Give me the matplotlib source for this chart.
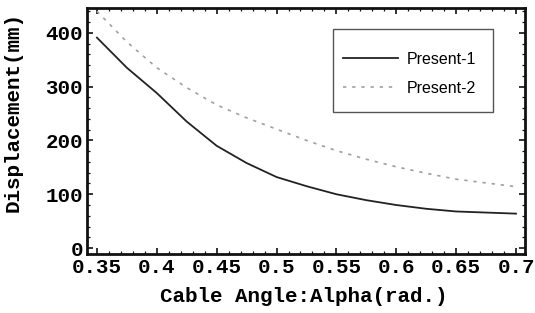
import matplotlib
matplotlib.use("Agg")
import matplotlib.pyplot as plt
from matplotlib.ticker import MultipleLocator, FixedLocator
from matplotlib.patches import Rectangle
from matplotlib.font_manager import FontProperties

alpha = [0.35, 0.375, 0.40, 0.425, 0.45, 0.475, 0.50, 0.525, 0.55, 0.575,
         0.60, 0.625, 0.65, 0.675, 0.70]
present1 = [391, 335, 288, 235, 190, 158, 132, 115, 100, 89, 80, 73, 68, 66, 64]
present2 = [440, 383, 335, 298, 266, 242, 221, 200, 181, 165, 151, 139, 128, 121, 114]
xticks = [0.35, 0.4, 0.45, 0.5, 0.55, 0.6, 0.65, 0.7]
xticklabels = ["0.35", "0.4", "0.45", "0.5", "0.55", "0.6", "0.65", "0.7"]
yticks = [0, 100, 200, 300, 400]
series_names = ["Present-1", "Present-2"]

mono = dict(family="Liberation Mono", weight="bold", size=15)

fig = plt.figure(figsize=(5.35, 3.13), dpi=100)
ax = fig.add_axes([0.1626, 0.1885, 0.9813 - 0.1626, 0.9744 - 0.1885])

l1, = ax.plot(alpha, present1, color="#222222", lw=1.3, label=series_names[0])
l2, = ax.plot(alpha, present2, color="#a0a0a0", lw=1.2, dashes=(2.0, 3.5),
              label=series_names[1])

ax.set_xlim(0.3417, 0.7075)
ax.set_ylim(-11, 446)
ax.xaxis.set_major_locator(FixedLocator(xticks))
ax.set_xticklabels(xticklabels)
ax.xaxis.set_minor_locator(MultipleLocator(0.01))
ax.yaxis.set_major_locator(FixedLocator(yticks))
ax.yaxis.set_minor_locator(MultipleLocator(20))

for lab in ax.get_xticklabels() + ax.get_yticklabels():
    lab.set_fontproperties(FontProperties(**mono))

ax.tick_params(which="both", direction="in", top=True, right=True, color="#111111")
ax.tick_params(which="major", length=4, width=1.2, pad=3)
ax.tick_params(which="minor", length=2, width=0.9)
for s in ax.spines.values():
    s.set_linewidth(2.0)
    s.set_color("#111111")

ax.set_xlabel("Cable Angle:Alpha(rad.)", fontdict=mono)
ax.xaxis.set_label_coords(0.495, -0.135)
ax.set_ylabel("Displacement(mm)", fontdict=mono)
ax.yaxis.set_label_coords(-0.147, 0.577)

# legend frame
ax.add_patch(Rectangle((0.5616, 0.577), 0.3654, 0.3374, transform=ax.transAxes,
                       fill=False, edgecolor="#555555", lw=1.0, zorder=5))
ax.legend(handles=[l1, l2], loc="upper left", bbox_to_anchor=(0.585, 0.821),
          frameon=False, prop=dict(family="Liberation Sans", size=11.5),
          handlelength=3.4, handletextpad=0.55, labelspacing=0.85,
          borderpad=0.0, borderaxespad=0.0)

fig.savefig("out.png", dpi=100)
